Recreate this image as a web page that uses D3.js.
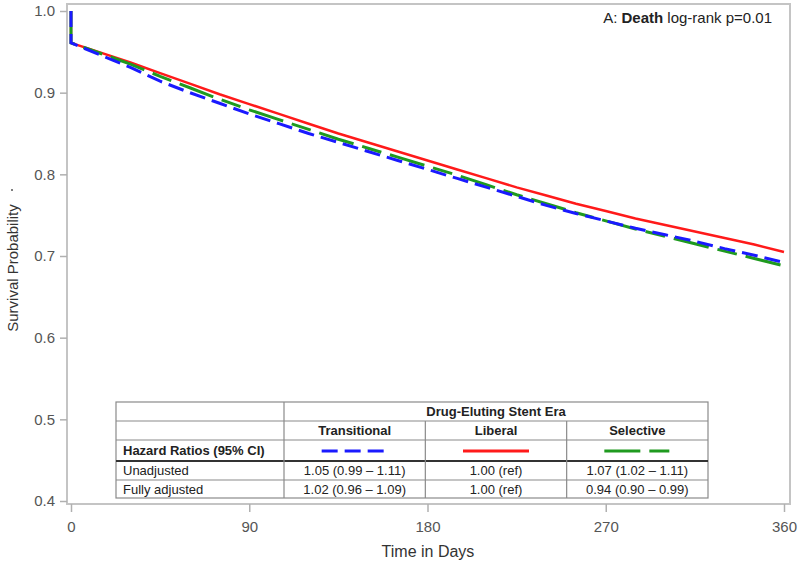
<!DOCTYPE html>
<html><head><meta charset="utf-8">
<script src="https://cdn.jsdelivr.net/npm/d3@7"></script>
<style>body{margin:0;background:#fff}svg{display:block;font-family:"Liberation Sans",Arial,sans-serif}</style>
</head><body>
<svg id="c" width="800" height="567"></svg>
<script>
// ---- data ----
const days = [0, 0, 15, 30, 45, 60, 75, 90, 105, 120, 135, 150, 165, 180, 195, 210, 225, 240, 255, 270, 285, 300, 315, 330, 345, 360];
const liberal      = [1.0, 0.961, 0.949, 0.937, 0.924, 0.911, 0.898, 0.886, 0.874, 0.862, 0.850, 0.839, 0.828, 0.817, 0.806, 0.795, 0.784, 0.774, 0.764, 0.755, 0.746, 0.738, 0.730, 0.722, 0.714, 0.705];
const transitional = [1.0, 0.961, 0.946, 0.931, 0.914, 0.900, 0.887, 0.874, 0.862, 0.850, 0.839, 0.828, 0.817, 0.806, 0.795, 0.784, 0.773, 0.762, 0.752, 0.743, 0.734, 0.726, 0.718, 0.709, 0.701, 0.692];
const selective    = [1.0, 0.961, 0.948, 0.935, 0.920, 0.906, 0.892, 0.879, 0.867, 0.855, 0.843, 0.832, 0.821, 0.810, 0.799, 0.787, 0.775, 0.764, 0.753, 0.743, 0.733, 0.724, 0.715, 0.706, 0.697, 0.688];
const xTicks = [0, 90, 180, 270, 360];
const yTicks = [0.4, 0.5, 0.6, 0.7, 0.8, 0.9, 1.0];
const groups = ["Transitional", "Liberal", "Selective"];
const rowLabels = ["Unadjusted", "Fully adjusted"];
const unadjusted = ["1.05 (0.99 \u2013 1.11)", "1.00 (ref)", "1.07 (1.02 \u2013 1.11)"];
const fullyAdjusted = ["1.02 (0.96 \u2013 1.09)", "1.00 (ref)", "0.94 (0.90 \u2013 0.99)"];

const svg = d3.select("#c");
const x = d3.scaleLinear().domain([0, 360]).range([71, 784]);
const y = d3.scaleLinear().domain([0.4, 1.0]).range([501, 11]);

// frame
svg.append("rect").attr("x", 67).attr("y", 4).attr("width", 723).attr("height", 500)
  .attr("fill", "none").attr("stroke", "#c4c4c4").attr("stroke-width", 2);

// y axis
const ya = svg.append("g").attr("transform", "translate(67,0)")
  .call(d3.axisLeft(y).tickValues(yTicks).tickFormat(d3.format(".1f")).tickSize(7).tickPadding(5));
ya.select(".domain").remove();
ya.selectAll("line").attr("stroke", "#b0b0b0").attr("stroke-width", 1.5);
ya.selectAll("text").attr("font-size", 15).attr("fill", "#555").attr("font-family", "Liberation Sans, Arial, sans-serif");

// x axis
const xa = svg.append("g").attr("transform", "translate(0,504)")
  .call(d3.axisBottom(x).tickValues(xTicks).tickSize(8).tickPadding(9));
xa.select(".domain").remove();
xa.selectAll("line").attr("stroke", "#b0b0b0").attr("stroke-width", 1.5);
xa.selectAll("text").attr("font-size", 15).attr("fill", "#555").attr("font-family", "Liberation Sans, Arial, sans-serif");

// axis titles
svg.append("text").attr("x", 428).attr("y", 557).attr("text-anchor", "middle")
  .attr("font-size", 16).attr("fill", "#333").text("Time in Days");
svg.append("text").attr("transform", "translate(18,268) rotate(-90)").attr("text-anchor", "middle")
  .attr("font-size", 15).attr("fill", "#333").text("Survival Probability");
svg.append("circle").attr("cx", 12).attr("cy", 190).attr("r", 1).attr("fill", "#555");

// title
const t = svg.append("text").attr("x", 772).attr("y", 23).attr("text-anchor", "end")
  .attr("font-size", 15).attr("fill", "#222");
t.append("tspan").text("A: ");
t.append("tspan").attr("font-weight", "bold").text("Death");
t.append("tspan").text(" log-rank p=0.01");

// curves
const sRed = {vals: liberal, color: "#ff1a1a", dash: null, w: 2.5};
const sBlue = {vals: transitional, color: "#1a1aff", dash: "16,7", w: 3};
const sGreen = {vals: selective, color: "#1f9a1f", dash: "36,9,20,9", w: 3};
const line = d3.line().x((d, i) => x(days[i])).y(d => y(d));
[sRed, sGreen, sBlue].forEach(s => {
  svg.append("path").attr("d", line(s.vals)).attr("fill", "none")
    .attr("stroke", s.color).attr("stroke-width", s.w)
    .attr("stroke-dasharray", s.dash);
});

// table
const tL = 116, tR = 708, c1 = 284;
const cw = (tR - c1) / 3;
const rows = [402, 421, 440, 461, 480, 498];
const tb = svg.append("g");
tb.append("rect").attr("x", tL).attr("y", rows[0]).attr("width", tR - tL).attr("height", rows[5] - rows[0])
  .attr("fill", "#fff").attr("stroke", "#8a8a8a").attr("stroke-width", 1.2);
[1, 2, 4].forEach(r => tb.append("line").attr("x1", tL).attr("x2", tR).attr("y1", rows[r]).attr("y2", rows[r])
  .attr("stroke", "#8a8a8a").attr("stroke-width", 1.2));
tb.append("line").attr("x1", tL).attr("x2", tR).attr("y1", rows[3]).attr("y2", rows[3])
  .attr("stroke", "#333").attr("stroke-width", 2);
tb.append("line").attr("x1", c1).attr("x2", c1).attr("y1", rows[0]).attr("y2", rows[5])
  .attr("stroke", "#8a8a8a").attr("stroke-width", 1.2);
[1, 2].forEach(k => tb.append("line").attr("x1", c1 + k * cw).attr("x2", c1 + k * cw)
  .attr("y1", rows[1]).attr("y2", rows[5]).attr("stroke", "#8a8a8a").attr("stroke-width", 1.2));

const tx = (txt, xx, yy, anchor, bold) => tb.append("text").attr("x", xx).attr("y", yy)
  .attr("text-anchor", anchor).attr("font-size", 13).attr("fill", "#222")
  .attr("font-weight", bold ? "bold" : "normal").text(txt);
tx("Drug-Eluting Stent Era", (c1 + tR) / 2, 416, "middle", true);
groups.forEach((g, i) => tx(g, c1 + cw * (i + 0.5), 435, "middle", true));
tx("Hazard Ratios (95% CI)", 123, 455, "start", true);
rowLabels.forEach((r, i) => tx(r, 123, 475 + i * 19, "start", false));
[unadjusted, fullyAdjusted].forEach((arr, j) => arr.forEach((v, i) =>
  tx(v, c1 + cw * (i + 0.5), 475 + j * 19, "middle", false)));

// legend samples
[sBlue, sRed, sGreen].forEach((s, i) => {
  const cx = c1 + cw * (i + 0.5);
  tb.append("line").attr("x1", cx - 33).attr("x2", cx + 33).attr("y1", 451).attr("y2", 451)
    .attr("stroke", s.color).attr("stroke-width", 3).attr("stroke-dasharray", s.dash);
});
</script>
</body></html>
